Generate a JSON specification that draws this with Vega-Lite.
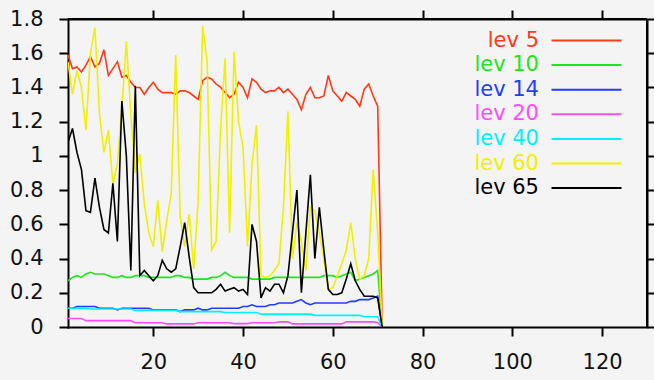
{
  "$schema": "https://vega.github.io/schema/vega-lite/v6.json",
  "width": 579,
  "height": 308,
  "autosize": "none",
  "padding": {"left": 68, "top": 19, "right": 7, "bottom": 53},
  "background": "#f4f4f4",
  "config": {"view": {"stroke": null}, "font": "DejaVu Sans"},
  "data": {"values": [
    {"x":1,"s":"lev 5","v":1.59},{"x":2,"s":"lev 5","v":1.51},{"x":3,"s":"lev 5","v":1.52},{"x":4,"s":"lev 5","v":1.49},{"x":5,"s":"lev 5","v":1.53},{"x":6,"s":"lev 5","v":1.58},{"x":7,"s":"lev 5","v":1.52},{"x":8,"s":"lev 5","v":1.54},{"x":9,"s":"lev 5","v":1.62},{"x":10,"s":"lev 5","v":1.47},
    {"x":11,"s":"lev 5","v":1.51},{"x":12,"s":"lev 5","v":1.55},{"x":13,"s":"lev 5","v":1.46},{"x":14,"s":"lev 5","v":1.47},{"x":15,"s":"lev 5","v":1.43},{"x":16,"s":"lev 5","v":1.40},{"x":17,"s":"lev 5","v":1.40},{"x":18,"s":"lev 5","v":1.36},{"x":19,"s":"lev 5","v":1.40},{"x":20,"s":"lev 5","v":1.43},
    {"x":21,"s":"lev 5","v":1.39},{"x":22,"s":"lev 5","v":1.37},{"x":23,"s":"lev 5","v":1.37},{"x":24,"s":"lev 5","v":1.37},{"x":25,"s":"lev 5","v":1.36},{"x":26,"s":"lev 5","v":1.38},{"x":27,"s":"lev 5","v":1.38},{"x":28,"s":"lev 5","v":1.37},{"x":29,"s":"lev 5","v":1.35},{"x":30,"s":"lev 5","v":1.33},
    {"x":31,"s":"lev 5","v":1.44},{"x":32,"s":"lev 5","v":1.46},{"x":33,"s":"lev 5","v":1.45},{"x":34,"s":"lev 5","v":1.42},{"x":35,"s":"lev 5","v":1.40},{"x":36,"s":"lev 5","v":1.37},{"x":37,"s":"lev 5","v":1.34},{"x":38,"s":"lev 5","v":1.36},{"x":39,"s":"lev 5","v":1.43},{"x":40,"s":"lev 5","v":1.40},
    {"x":41,"s":"lev 5","v":1.34},{"x":42,"s":"lev 5","v":1.45},{"x":43,"s":"lev 5","v":1.43},{"x":44,"s":"lev 5","v":1.39},{"x":45,"s":"lev 5","v":1.37},{"x":46,"s":"lev 5","v":1.38},{"x":47,"s":"lev 5","v":1.38},{"x":48,"s":"lev 5","v":1.40},{"x":49,"s":"lev 5","v":1.37},{"x":50,"s":"lev 5","v":1.39},
    {"x":51,"s":"lev 5","v":1.36},{"x":52,"s":"lev 5","v":1.33},{"x":53,"s":"lev 5","v":1.27},{"x":54,"s":"lev 5","v":1.36},{"x":55,"s":"lev 5","v":1.40},{"x":56,"s":"lev 5","v":1.34},{"x":57,"s":"lev 5","v":1.34},{"x":58,"s":"lev 5","v":1.35},{"x":59,"s":"lev 5","v":1.47},{"x":60,"s":"lev 5","v":1.38},
    {"x":61,"s":"lev 5","v":1.35},{"x":62,"s":"lev 5","v":1.32},{"x":63,"s":"lev 5","v":1.37},{"x":64,"s":"lev 5","v":1.35},{"x":65,"s":"lev 5","v":1.33},{"x":66,"s":"lev 5","v":1.29},{"x":67,"s":"lev 5","v":1.39},{"x":68,"s":"lev 5","v":1.42},{"x":69,"s":"lev 5","v":1.35},{"x":70,"s":"lev 5","v":1.29},
    {"x":71,"s":"lev 5","v":0},

    {"x":1,"s":"lev 10","v":0.27},{"x":2,"s":"lev 10","v":0.29},{"x":3,"s":"lev 10","v":0.30},{"x":4,"s":"lev 10","v":0.29},{"x":5,"s":"lev 10","v":0.31},{"x":6,"s":"lev 10","v":0.32},{"x":7,"s":"lev 10","v":0.31},{"x":8,"s":"lev 10","v":0.31},{"x":9,"s":"lev 10","v":0.31},{"x":10,"s":"lev 10","v":0.30},
    {"x":11,"s":"lev 10","v":0.29},{"x":12,"s":"lev 10","v":0.29},{"x":13,"s":"lev 10","v":0.30},{"x":14,"s":"lev 10","v":0.29},{"x":15,"s":"lev 10","v":0.29},{"x":16,"s":"lev 10","v":0.30},{"x":17,"s":"lev 10","v":0.30},{"x":18,"s":"lev 10","v":0.30},{"x":19,"s":"lev 10","v":0.29},{"x":20,"s":"lev 10","v":0.29},
    {"x":21,"s":"lev 10","v":0.29},{"x":22,"s":"lev 10","v":0.29},{"x":23,"s":"lev 10","v":0.29},{"x":24,"s":"lev 10","v":0.29},{"x":25,"s":"lev 10","v":0.30},{"x":26,"s":"lev 10","v":0.30},{"x":27,"s":"lev 10","v":0.29},{"x":28,"s":"lev 10","v":0.29},{"x":29,"s":"lev 10","v":0.28},{"x":30,"s":"lev 10","v":0.28},
    {"x":31,"s":"lev 10","v":0.28},{"x":32,"s":"lev 10","v":0.28},{"x":33,"s":"lev 10","v":0.29},{"x":34,"s":"lev 10","v":0.29},{"x":35,"s":"lev 10","v":0.30},{"x":36,"s":"lev 10","v":0.32},{"x":37,"s":"lev 10","v":0.30},{"x":38,"s":"lev 10","v":0.29},{"x":39,"s":"lev 10","v":0.29},{"x":40,"s":"lev 10","v":0.29},
    {"x":41,"s":"lev 10","v":0.29},{"x":42,"s":"lev 10","v":0.28},{"x":43,"s":"lev 10","v":0.28},{"x":44,"s":"lev 10","v":0.28},{"x":45,"s":"lev 10","v":0.28},{"x":46,"s":"lev 10","v":0.28},{"x":47,"s":"lev 10","v":0.29},{"x":48,"s":"lev 10","v":0.29},{"x":49,"s":"lev 10","v":0.29},{"x":50,"s":"lev 10","v":0.29},
    {"x":51,"s":"lev 10","v":0.29},{"x":52,"s":"lev 10","v":0.29},{"x":53,"s":"lev 10","v":0.29},{"x":54,"s":"lev 10","v":0.29},{"x":55,"s":"lev 10","v":0.29},{"x":56,"s":"lev 10","v":0.29},{"x":57,"s":"lev 10","v":0.29},{"x":58,"s":"lev 10","v":0.30},{"x":59,"s":"lev 10","v":0.30},{"x":60,"s":"lev 10","v":0.30},
    {"x":61,"s":"lev 10","v":0.29},{"x":62,"s":"lev 10","v":0.30},{"x":63,"s":"lev 10","v":0.31},{"x":64,"s":"lev 10","v":0.32},{"x":65,"s":"lev 10","v":0.27},{"x":66,"s":"lev 10","v":0.28},{"x":67,"s":"lev 10","v":0.29},{"x":68,"s":"lev 10","v":0.30},{"x":69,"s":"lev 10","v":0.31},{"x":70,"s":"lev 10","v":0.33},
    {"x":71,"s":"lev 10","v":0},

    {"x":1,"s":"lev 14","v":0.11},{"x":2,"s":"lev 14","v":0.11},{"x":3,"s":"lev 14","v":0.12},{"x":4,"s":"lev 14","v":0.12},{"x":5,"s":"lev 14","v":0.12},{"x":6,"s":"lev 14","v":0.12},{"x":7,"s":"lev 14","v":0.12},{"x":8,"s":"lev 14","v":0.11},{"x":9,"s":"lev 14","v":0.11},{"x":10,"s":"lev 14","v":0.11},
    {"x":11,"s":"lev 14","v":0.11},{"x":12,"s":"lev 14","v":0.10},{"x":13,"s":"lev 14","v":0.11},{"x":14,"s":"lev 14","v":0.11},{"x":15,"s":"lev 14","v":0.11},{"x":16,"s":"lev 14","v":0.11},{"x":17,"s":"lev 14","v":0.11},{"x":18,"s":"lev 14","v":0.11},{"x":19,"s":"lev 14","v":0.11},{"x":20,"s":"lev 14","v":0.10},
    {"x":21,"s":"lev 14","v":0.10},{"x":22,"s":"lev 14","v":0.10},{"x":23,"s":"lev 14","v":0.10},{"x":24,"s":"lev 14","v":0.10},{"x":25,"s":"lev 14","v":0.10},{"x":26,"s":"lev 14","v":0.09},{"x":27,"s":"lev 14","v":0.10},{"x":28,"s":"lev 14","v":0.10},{"x":29,"s":"lev 14","v":0.10},{"x":30,"s":"lev 14","v":0.11},
    {"x":31,"s":"lev 14","v":0.10},{"x":32,"s":"lev 14","v":0.10},{"x":33,"s":"lev 14","v":0.11},{"x":34,"s":"lev 14","v":0.11},{"x":35,"s":"lev 14","v":0.11},{"x":36,"s":"lev 14","v":0.11},{"x":37,"s":"lev 14","v":0.11},{"x":38,"s":"lev 14","v":0.11},{"x":39,"s":"lev 14","v":0.11},{"x":40,"s":"lev 14","v":0.12},
    {"x":41,"s":"lev 14","v":0.12},{"x":42,"s":"lev 14","v":0.13},{"x":43,"s":"lev 14","v":0.12},{"x":44,"s":"lev 14","v":0.12},{"x":45,"s":"lev 14","v":0.12},{"x":46,"s":"lev 14","v":0.13},{"x":47,"s":"lev 14","v":0.13},{"x":48,"s":"lev 14","v":0.14},{"x":49,"s":"lev 14","v":0.14},{"x":50,"s":"lev 14","v":0.14},
    {"x":51,"s":"lev 14","v":0.14},{"x":52,"s":"lev 14","v":0.15},{"x":53,"s":"lev 14","v":0.16},{"x":54,"s":"lev 14","v":0.14},{"x":55,"s":"lev 14","v":0.13},{"x":56,"s":"lev 14","v":0.14},{"x":57,"s":"lev 14","v":0.14},{"x":58,"s":"lev 14","v":0.14},{"x":59,"s":"lev 14","v":0.14},{"x":60,"s":"lev 14","v":0.14},
    {"x":61,"s":"lev 14","v":0.14},{"x":62,"s":"lev 14","v":0.14},{"x":63,"s":"lev 14","v":0.14},{"x":64,"s":"lev 14","v":0.15},{"x":65,"s":"lev 14","v":0.15},{"x":66,"s":"lev 14","v":0.16},{"x":67,"s":"lev 14","v":0.16},{"x":68,"s":"lev 14","v":0.16},{"x":69,"s":"lev 14","v":0.17},{"x":70,"s":"lev 14","v":0.18},
    {"x":71,"s":"lev 14","v":0},

    {"x":1,"s":"lev 20","v":0.05},{"x":2,"s":"lev 20","v":0.05},{"x":3,"s":"lev 20","v":0.05},{"x":4,"s":"lev 20","v":0.05},{"x":5,"s":"lev 20","v":0.037},{"x":6,"s":"lev 20","v":0.037},{"x":7,"s":"lev 20","v":0.037},{"x":8,"s":"lev 20","v":0.037},{"x":9,"s":"lev 20","v":0.037},{"x":10,"s":"lev 20","v":0.037},
    {"x":11,"s":"lev 20","v":0.037},{"x":12,"s":"lev 20","v":0.037},{"x":13,"s":"lev 20","v":0.037},{"x":14,"s":"lev 20","v":0.037},{"x":15,"s":"lev 20","v":0.037},{"x":16,"s":"lev 20","v":0.025},{"x":17,"s":"lev 20","v":0.025},{"x":18,"s":"lev 20","v":0.025},{"x":19,"s":"lev 20","v":0.025},{"x":20,"s":"lev 20","v":0.025},
    {"x":21,"s":"lev 20","v":0.025},{"x":22,"s":"lev 20","v":0.025},{"x":23,"s":"lev 20","v":0.018},{"x":24,"s":"lev 20","v":0.018},{"x":25,"s":"lev 20","v":0.018},{"x":26,"s":"lev 20","v":0.018},{"x":27,"s":"lev 20","v":0.018},{"x":28,"s":"lev 20","v":0.018},{"x":29,"s":"lev 20","v":0.018},{"x":30,"s":"lev 20","v":0.025},
    {"x":31,"s":"lev 20","v":0.025},{"x":32,"s":"lev 20","v":0.025},{"x":33,"s":"lev 20","v":0.025},{"x":34,"s":"lev 20","v":0.025},{"x":35,"s":"lev 20","v":0.025},{"x":36,"s":"lev 20","v":0.025},{"x":37,"s":"lev 20","v":0.025},{"x":38,"s":"lev 20","v":0.02},{"x":39,"s":"lev 20","v":0.02},{"x":40,"s":"lev 20","v":0.02},
    {"x":41,"s":"lev 20","v":0.02},{"x":42,"s":"lev 20","v":0.025},{"x":43,"s":"lev 20","v":0.025},{"x":44,"s":"lev 20","v":0.025},{"x":45,"s":"lev 20","v":0.025},{"x":46,"s":"lev 20","v":0.025},{"x":47,"s":"lev 20","v":0.025},{"x":48,"s":"lev 20","v":0.03},{"x":49,"s":"lev 20","v":0.03},{"x":50,"s":"lev 20","v":0.03},
    {"x":51,"s":"lev 20","v":0.018},{"x":52,"s":"lev 20","v":0.018},{"x":53,"s":"lev 20","v":0.018},{"x":54,"s":"lev 20","v":0.018},{"x":55,"s":"lev 20","v":0.018},{"x":56,"s":"lev 20","v":0.018},{"x":57,"s":"lev 20","v":0.018},{"x":58,"s":"lev 20","v":0.018},{"x":59,"s":"lev 20","v":0.018},{"x":60,"s":"lev 20","v":0.018},
    {"x":61,"s":"lev 20","v":0.018},{"x":62,"s":"lev 20","v":0.018},{"x":63,"s":"lev 20","v":0.03},{"x":64,"s":"lev 20","v":0.03},{"x":65,"s":"lev 20","v":0.03},{"x":66,"s":"lev 20","v":0.03},{"x":67,"s":"lev 20","v":0.03},{"x":68,"s":"lev 20","v":0.03},{"x":69,"s":"lev 20","v":0.03},{"x":70,"s":"lev 20","v":0.025},
    {"x":71,"s":"lev 20","v":0},

    {"x":1,"s":"lev 40","v":0.11},{"x":2,"s":"lev 40","v":0.11},{"x":3,"s":"lev 40","v":0.11},{"x":4,"s":"lev 40","v":0.11},{"x":5,"s":"lev 40","v":0.11},{"x":6,"s":"lev 40","v":0.105},{"x":7,"s":"lev 40","v":0.105},{"x":8,"s":"lev 40","v":0.105},{"x":9,"s":"lev 40","v":0.105},{"x":10,"s":"lev 40","v":0.105},
    {"x":11,"s":"lev 40","v":0.105},{"x":12,"s":"lev 40","v":0.105},{"x":13,"s":"lev 40","v":0.105},{"x":14,"s":"lev 40","v":0.105},{"x":15,"s":"lev 40","v":0.105},{"x":16,"s":"lev 40","v":0.097},{"x":17,"s":"lev 40","v":0.097},{"x":18,"s":"lev 40","v":0.097},{"x":19,"s":"lev 40","v":0.097},{"x":20,"s":"lev 40","v":0.097},
    {"x":21,"s":"lev 40","v":0.097},{"x":22,"s":"lev 40","v":0.097},{"x":23,"s":"lev 40","v":0.097},{"x":24,"s":"lev 40","v":0.097},{"x":25,"s":"lev 40","v":0.097},{"x":26,"s":"lev 40","v":0.09},{"x":27,"s":"lev 40","v":0.09},{"x":28,"s":"lev 40","v":0.09},{"x":29,"s":"lev 40","v":0.09},{"x":30,"s":"lev 40","v":0.09},
    {"x":31,"s":"lev 40","v":0.09},{"x":32,"s":"lev 40","v":0.09},{"x":33,"s":"lev 40","v":0.09},{"x":34,"s":"lev 40","v":0.09},{"x":35,"s":"lev 40","v":0.09},{"x":36,"s":"lev 40","v":0.085},{"x":37,"s":"lev 40","v":0.085},{"x":38,"s":"lev 40","v":0.085},{"x":39,"s":"lev 40","v":0.085},{"x":40,"s":"lev 40","v":0.085},
    {"x":41,"s":"lev 40","v":0.085},{"x":42,"s":"lev 40","v":0.085},{"x":43,"s":"lev 40","v":0.085},{"x":44,"s":"lev 40","v":0.075},{"x":45,"s":"lev 40","v":0.075},{"x":46,"s":"lev 40","v":0.075},{"x":47,"s":"lev 40","v":0.075},{"x":48,"s":"lev 40","v":0.075},{"x":49,"s":"lev 40","v":0.075},{"x":50,"s":"lev 40","v":0.075},
    {"x":51,"s":"lev 40","v":0.075},{"x":52,"s":"lev 40","v":0.075},{"x":53,"s":"lev 40","v":0.075},{"x":54,"s":"lev 40","v":0.075},{"x":55,"s":"lev 40","v":0.075},{"x":56,"s":"lev 40","v":0.068},{"x":57,"s":"lev 40","v":0.068},{"x":58,"s":"lev 40","v":0.068},{"x":59,"s":"lev 40","v":0.068},{"x":60,"s":"lev 40","v":0.068},
    {"x":61,"s":"lev 40","v":0.068},{"x":62,"s":"lev 40","v":0.068},{"x":63,"s":"lev 40","v":0.068},{"x":64,"s":"lev 40","v":0.068},{"x":65,"s":"lev 40","v":0.068},{"x":66,"s":"lev 40","v":0.068},{"x":67,"s":"lev 40","v":0.06},{"x":68,"s":"lev 40","v":0.06},{"x":69,"s":"lev 40","v":0.06},{"x":70,"s":"lev 40","v":0.06},
    {"x":71,"s":"lev 40","v":0},

    {"x":1,"s":"lev 60","v":1.55},{"x":2,"s":"lev 60","v":1.36},{"x":3,"s":"lev 60","v":1.50},{"x":4,"s":"lev 60","v":1.40},{"x":5,"s":"lev 60","v":1.15},{"x":6,"s":"lev 60","v":1.60},{"x":7,"s":"lev 60","v":1.75},{"x":8,"s":"lev 60","v":1.25},{"x":9,"s":"lev 60","v":1.02},{"x":10,"s":"lev 60","v":1.15},
    {"x":11,"s":"lev 60","v":0.84},{"x":12,"s":"lev 60","v":0.95},{"x":13,"s":"lev 60","v":1.28},{"x":14,"s":"lev 60","v":1.67},{"x":15,"s":"lev 60","v":1.24},{"x":16,"s":"lev 60","v":0.90},{"x":17,"s":"lev 60","v":1.01},{"x":18,"s":"lev 60","v":0.72},{"x":19,"s":"lev 60","v":0.55},{"x":20,"s":"lev 60","v":0.47},
    {"x":21,"s":"lev 60","v":0.74},{"x":22,"s":"lev 60","v":0.44},{"x":23,"s":"lev 60","v":0.62},{"x":24,"s":"lev 60","v":0.78},{"x":25,"s":"lev 60","v":1.59},{"x":26,"s":"lev 60","v":0.64},{"x":27,"s":"lev 60","v":0.47},{"x":28,"s":"lev 60","v":0.66},{"x":29,"s":"lev 60","v":0.34},{"x":30,"s":"lev 60","v":0.74},
    {"x":31,"s":"lev 60","v":1.76},{"x":32,"s":"lev 60","v":1.55},{"x":33,"s":"lev 60","v":0.45},{"x":34,"s":"lev 60","v":0.50},{"x":35,"s":"lev 60","v":1.16},{"x":36,"s":"lev 60","v":1.57},{"x":37,"s":"lev 60","v":0.55},{"x":38,"s":"lev 60","v":1.61},{"x":39,"s":"lev 60","v":1.20},{"x":40,"s":"lev 60","v":1.05},
    {"x":41,"s":"lev 60","v":0.47},{"x":42,"s":"lev 60","v":0.95},{"x":43,"s":"lev 60","v":1.18},{"x":44,"s":"lev 60","v":0.30},{"x":45,"s":"lev 60","v":0.29},{"x":46,"s":"lev 60","v":0.30},{"x":47,"s":"lev 60","v":0.33},{"x":48,"s":"lev 60","v":0.37},{"x":49,"s":"lev 60","v":0.70},{"x":50,"s":"lev 60","v":1.26},
    {"x":51,"s":"lev 60","v":0.40},{"x":52,"s":"lev 60","v":0.61},{"x":53,"s":"lev 60","v":0.50},{"x":54,"s":"lev 60","v":0.33},{"x":55,"s":"lev 60","v":0.70},{"x":56,"s":"lev 60","v":0.68},{"x":57,"s":"lev 60","v":0.55},{"x":58,"s":"lev 60","v":0.40},{"x":59,"s":"lev 60","v":0.22},{"x":60,"s":"lev 60","v":0.23},
    {"x":61,"s":"lev 60","v":0.30},{"x":62,"s":"lev 60","v":0.37},{"x":63,"s":"lev 60","v":0.45},{"x":64,"s":"lev 60","v":0.61},{"x":65,"s":"lev 60","v":0.40},{"x":66,"s":"lev 60","v":0.28},{"x":67,"s":"lev 60","v":0.30},{"x":68,"s":"lev 60","v":0.40},{"x":69,"s":"lev 60","v":0.92},{"x":70,"s":"lev 60","v":0.55},
    {"x":71,"s":"lev 60","v":0},

    {"x":1,"s":"lev 65","v":1.08},{"x":2,"s":"lev 65","v":1.16},{"x":3,"s":"lev 65","v":1.02},{"x":4,"s":"lev 65","v":0.92},{"x":5,"s":"lev 65","v":0.68},{"x":6,"s":"lev 65","v":0.67},{"x":7,"s":"lev 65","v":0.87},{"x":8,"s":"lev 65","v":0.70},{"x":9,"s":"lev 65","v":0.57},{"x":10,"s":"lev 65","v":0.55},
    {"x":11,"s":"lev 65","v":0.84},{"x":12,"s":"lev 65","v":0.50},{"x":13,"s":"lev 65","v":1.32},{"x":14,"s":"lev 65","v":1.00},{"x":15,"s":"lev 65","v":0.33},{"x":16,"s":"lev 65","v":1.41},{"x":17,"s":"lev 65","v":0.30},{"x":18,"s":"lev 65","v":0.33},{"x":19,"s":"lev 65","v":0.30},{"x":20,"s":"lev 65","v":0.27},
    {"x":21,"s":"lev 65","v":0.30},{"x":22,"s":"lev 65","v":0.39},{"x":23,"s":"lev 65","v":0.34},{"x":24,"s":"lev 65","v":0.32},{"x":25,"s":"lev 65","v":0.34},{"x":26,"s":"lev 65","v":0.47},{"x":27,"s":"lev 65","v":0.61},{"x":28,"s":"lev 65","v":0.41},{"x":29,"s":"lev 65","v":0.23},{"x":30,"s":"lev 65","v":0.20},
    {"x":31,"s":"lev 65","v":0.20},{"x":32,"s":"lev 65","v":0.20},{"x":33,"s":"lev 65","v":0.20},{"x":34,"s":"lev 65","v":0.22},{"x":35,"s":"lev 65","v":0.25},{"x":36,"s":"lev 65","v":0.21},{"x":37,"s":"lev 65","v":0.22},{"x":38,"s":"lev 65","v":0.23},{"x":39,"s":"lev 65","v":0.21},{"x":40,"s":"lev 65","v":0.22},
    {"x":41,"s":"lev 65","v":0.19},{"x":42,"s":"lev 65","v":0.60},{"x":43,"s":"lev 65","v":0.50},{"x":44,"s":"lev 65","v":0.17},{"x":45,"s":"lev 65","v":0.23},{"x":46,"s":"lev 65","v":0.21},{"x":47,"s":"lev 65","v":0.25},{"x":48,"s":"lev 65","v":0.25},{"x":49,"s":"lev 65","v":0.20},{"x":50,"s":"lev 65","v":0.30},
    {"x":51,"s":"lev 65","v":0.55},{"x":52,"s":"lev 65","v":0.80},{"x":53,"s":"lev 65","v":0.20},{"x":54,"s":"lev 65","v":0.55},{"x":55,"s":"lev 65","v":0.89},{"x":56,"s":"lev 65","v":0.40},{"x":57,"s":"lev 65","v":0.70},{"x":58,"s":"lev 65","v":0.45},{"x":59,"s":"lev 65","v":0.22},{"x":60,"s":"lev 65","v":0.19},
    {"x":61,"s":"lev 65","v":0.19},{"x":62,"s":"lev 65","v":0.20},{"x":63,"s":"lev 65","v":0.28},{"x":64,"s":"lev 65","v":0.37},{"x":65,"s":"lev 65","v":0.27},{"x":66,"s":"lev 65","v":0.22},{"x":67,"s":"lev 65","v":0.18},{"x":68,"s":"lev 65","v":0.18},{"x":69,"s":"lev 65","v":0.18},{"x":70,"s":"lev 65","v":0.17},
    {"x":71,"s":"lev 65","v":0}
  ]},
  "layer": [
    {
      "mark": {"type": "rule", "color": "#000", "strokeWidth": 2},
      "encoding": {"y": {"datum": 1.8, "type": "quantitative", "scale": {"domain": [0, 1.8], "nice": false, "zero": true}, "axis": null}}
    },
    {
      "mark": {"type": "rule", "color": "#000", "strokeWidth": 2},
      "encoding": {"x": {"datum": 130, "type": "quantitative", "scale": {"domain": [1, 130], "nice": false, "zero": false}, "axis": null}}
    },
    {
      "mark": {"type": "line", "strokeWidth": 1.6, "clip": true},
      "encoding": {
        "x": {
          "field": "x", "type": "quantitative",
          "scale": {"domain": [1, 130], "nice": false, "zero": false},
          "axis": {"orient": "bottom", "values": [20, 40, 60, 80, 100, 120], "title": null, "grid": false,
                   "domainColor": "#000", "domainWidth": 2, "domainCap": "square", "tickColor": "#000", "tickWidth": 2, "tickSize": 9,
                   "labelFont": "DejaVu Sans", "labelFontSize": 21, "labelColor": "#111", "labelPadding": 15, "labelFlush": false, "labelOverlap": false}
        },
        "y": {
          "field": "v", "type": "quantitative",
          "scale": {"domain": [0, 1.8], "nice": false, "zero": true},
          "axis": {"orient": "left", "values": [0, 0.2, 0.4, 0.6, 0.8, 1, 1.2, 1.4, 1.6, 1.8], "format": "~g", "title": null, "grid": false,
                   "domainColor": "#000", "domainWidth": 2, "domainCap": "square", "tickColor": "#000", "tickWidth": 2, "tickSize": 9,
                   "labelFont": "DejaVu Sans", "labelFontSize": 21, "labelColor": "#111", "labelPadding": 16, "labelFlush": false, "labelOverlap": false}
        },
        "color": {
          "field": "s", "type": "nominal",
          "scale": {
            "domain": ["lev 5", "lev 10", "lev 14", "lev 20", "lev 40", "lev 60", "lev 65"],
            "range": ["#ff3a1a", "#1ee61e", "#1f3cff", "#ff4dff", "#00f0ff", "#f0f000", "#000000"]
          },
          "legend": {
            "orient": "none", "legendX": 464, "legendY": 11, "title": null, "padding": 0,
            "symbolType": "M-5,0H5", "symbolSize": 196, "symbolStrokeWidth": 2, "symbolOffset": 44,
            "labelFont": "DejaVu Sans", "labelFontSize": 21, "labelAlign": "right", "labelOffset": -58,
            "rowPadding": 2.6,
            "encode": {"labels": {"update": {"fill": {"scale": "color", "field": "value"}}}}
          }
        }
      }
    },
    {
      "mark": {"type": "point", "size": 0, "strokeWidth": 0},
      "encoding": {
        "x": {
          "field": "x", "type": "quantitative",
          "scale": {"domain": [1, 130], "nice": false, "zero": false},
          "axis": {"orient": "top", "values": [20, 40, 60, 80, 100, 120], "labels": false, "domain": true, "ticks": true, "title": null, "grid": false,
                   "domainColor": "#000", "domainWidth": 2, "tickColor": "#000", "tickWidth": 2, "tickSize": 9}
        },
        "y": {
          "field": "v", "type": "quantitative",
          "scale": {"domain": [0, 1.8], "nice": false, "zero": true},
          "axis": {"orient": "right", "values": [0, 0.2, 0.4, 0.6, 0.8, 1, 1.2, 1.4, 1.6, 1.8], "labels": false, "domain": true, "ticks": true, "title": null, "grid": false,
                   "domainColor": "#000", "domainWidth": 2, "tickColor": "#000", "tickWidth": 2, "tickSize": 9}
        }
      }
    }
  ],
  "resolve": {
    "axis": {"x": "independent", "y": "independent"}
  }
}
